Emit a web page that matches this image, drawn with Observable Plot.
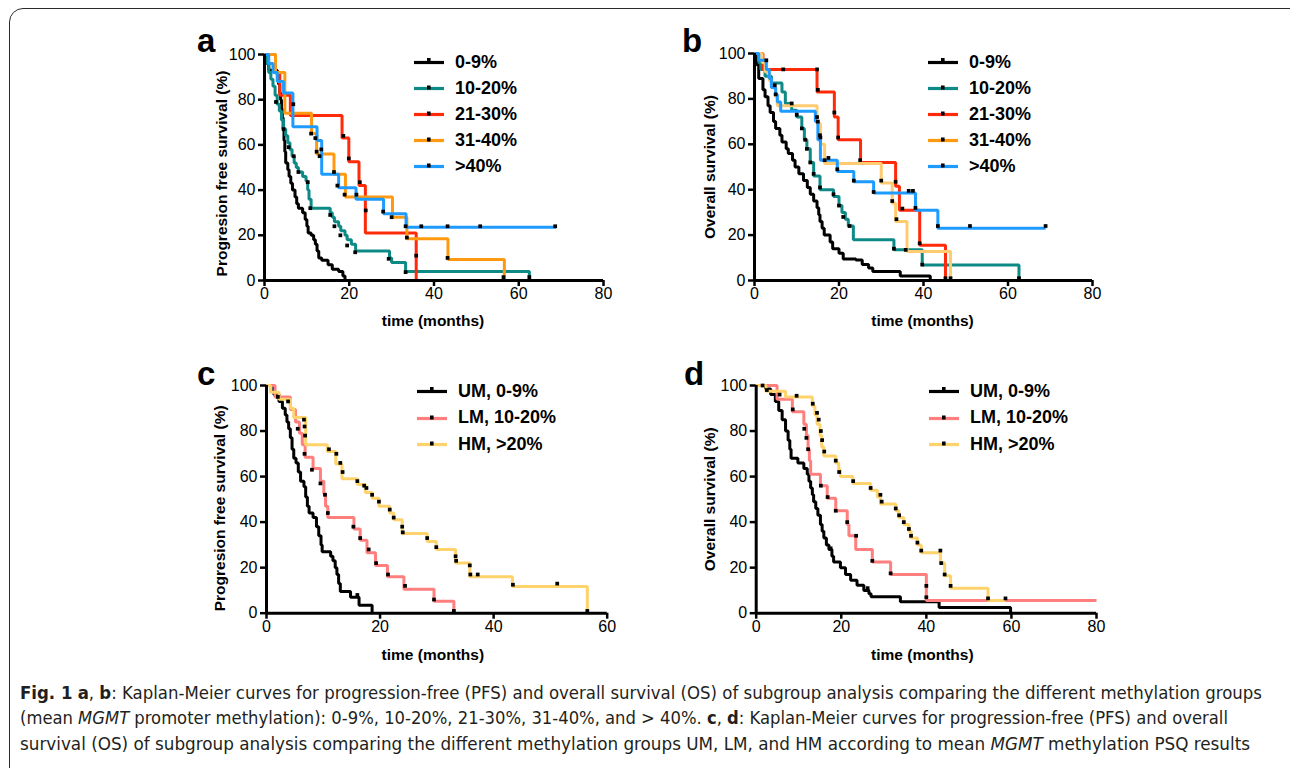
<!DOCTYPE html>
<html><head><meta charset="utf-8">
<script src="https://cdn.jsdelivr.net/npm/d3@7"></script>
<script src="https://cdn.jsdelivr.net/npm/@observablehq/plot@0.6"></script>
<style>
html,body{margin:0;padding:0;background:#fff;overflow:hidden;}
#wrap{position:relative;width:1290px;height:768px;overflow:hidden;background:#fff;font-family:"Liberation Sans",Arial,sans-serif;}
#frame{position:absolute;left:9px;top:8px;width:1300px;height:780px;border:1.5px solid #2a2a2a;border-radius:14px;box-sizing:border-box;}
.pan{position:absolute;}
.letter{position:absolute;font-weight:bold;font-size:33px;line-height:1;color:#000;}
.leg{position:absolute;}
.row{position:absolute;left:0;height:22px;display:flex;align-items:center;white-space:nowrap;}
.row span{font-weight:bold;font-size:18px;color:#000;margin-left:11px;}
</style></head>
<body><div id="wrap"><div id="frame"></div></div>
<script>
// ---------- data ----------
const xTicks80 = [0, 20, 40, 60, 80];
const xTicks60 = [0, 20, 40, 60];
const yTicks = [0, 20, 40, 60, 80, 100];

// Panel a: progression free survival, 5 groups [time (months), survival %]
const a_g1 = [[0,100],[0.5,96],[1,93],[3,91],[3.3,87],[3.6,83],[3.8,80],[4,76],[4.2,72],[4.4,67],[4.6,62],[4.8,57],[5,52],[5.5,49],[5.8,46],[6.2,43],[6.6,40],[7.2,37],[7.6,34],[8,32],[9,30],[9.6,27],[10,24],[10.3,21],[11,20],[11.6,18],[12,16],[12.4,13],[12.8,10],[13.5,9],[15,7],[16,5],[17.5,4],[18.5,2],[19,0]];
const a_g2 = [[0,100],[0.5,96],[1,92],[1.5,89],[2,86],[2.5,82],[3,78],[3.5,75],[4,71],[4.5,67],[5,64],[5.5,61],[6,58],[6.5,55],[7,52],[7.5,50],[8,48],[9,46],[9.8,44],[10.2,40],[10.5,36],[11,32],[15.5,30],[16,28],[16.5,26],[17.5,24],[18,22],[19,20],[19.5,18],[20.5,16],[21.5,13],[29.5,10],[30,8],[33.3,4],[62.5,0]];
const a_g3 = [[0,100],[2.6,92],[3.6,82],[6.1,73],[18.3,63],[19.9,52.5],[22.3,42],[23.8,21],[35.8,0]];
const a_g4 = [[0,100],[2.6,92],[4.8,74],[11.1,65],[12.3,56],[16.4,47],[19.1,37],[30.2,28],[33.6,18.5],[43.3,9.3],[56.6,0]];
const a_g5 = [[0,100],[1,96],[2,92],[3,88],[4.5,83],[6.7,68],[12.4,62],[13.5,47],[17.5,41],[21.6,36],[28.1,29.5],[33.4,23.6],[68.8,23.6]];
const a_c1 = [];
const a_c2 = [[2.7,79],[4.5,67],[5.7,59],[6.9,55],[8,48],[10.2,43.5],[10.8,32],[15.5,29],[16.5,24],[17.9,20],[19.5,15.5],[21.4,12.5],[29.3,9.6],[33.3,3.7],[62.5,1.5]];
const a_c3 = [[18.6,64],[19.9,54],[22.5,43.5],[23.9,31],[35.8,11]];
const a_c4 = [[11,65],[12.3,57],[13,55],[16.4,48],[18.9,38],[30,28],[33.6,19],[43.2,10],[56.4,1.5]];
const a_c5 = [[6.8,78],[12,63],[13.4,58],[17.2,42],[21.7,38],[28,30.5],[33.3,24],[37,24],[43.2,24],[50.9,24],[68.6,24]];

// Panel b: overall survival, 5 groups
const b_g1 = [[0,100],[0.5,95],[1,89],[2,84],[2.5,81],[3.2,77],[3.7,74],[4.5,70],[5,67],[6,64],[6.5,61],[7.5,58],[8,56],[9,53],[9.6,50],[10.5,47],[11.6,44],[12.5,41],[13.2,38],[14,35],[14.8,32],[15.2,29],[15.5,26],[16,23],[16.5,20],[17.9,17],[18.5,14],[20,12],[21,9.5],[24,9],[25.5,7],[27,5.5],[28,4],[34.5,2],[41.6,0]];
const b_g2 = [[0,100],[1,96],[1.5,93],[2.5,90],[4,87],[6.5,83],[7.3,78],[8.8,75],[10,72],[11.2,67],[11.8,62],[12.4,58],[13.2,52],[14,46],[15.5,40],[18.7,37],[20,33],[20.7,30],[21.5,27],[22.2,24],[23.4,18],[33,13.5],[39.7,6.8],[62.6,0]];
const b_g3 = [[0,100],[2,93],[14.8,83],[18.9,72],[19.8,62],[25.1,52],[33.4,41.5],[34.3,31],[39.1,15.5],[45.2,0]];
const b_g4 = [[0,100],[1.8,96],[2.5,92],[3.5,88],[4,85],[5,81],[5.4,77],[14.8,69],[15.6,60],[16.6,51.5],[30,43],[32.6,34],[33.4,26],[36.1,12.8],[46.4,0]];
const b_g5 = [[0,100],[1,97],[2.8,93],[3.5,89],[4,85],[5,82],[5.4,78.6],[6.2,74.6],[14.4,70],[15,62],[15.6,53],[19.6,48],[23.5,43.5],[28.2,38.5],[38.1,31],[43.4,23],[68.9,23]];
const b_c1 = [];
const b_c2 = [[4.8,86],[8.8,78],[10,73],[11.2,67],[12,62],[12.4,58],[13.2,52],[14,47],[15.5,41],[18.7,38],[20,33],[21,28],[22.5,24],[33,14],[39.7,7],[62.6,1]];
const b_c3 = [[6.8,93],[14.8,93],[15,84],[18.9,74],[19.8,63],[25,53],[33.4,43.5],[35,31.7],[39.1,16.4],[45.2,1]];
const b_c4 = [[14.8,72],[15.6,63],[16.6,53],[30,44],[32.6,35],[33.6,27],[35.8,13.5],[46.4,1]];
const b_c5 = [[2.8,97],[5,82],[15,70],[15.5,64],[17.5,54],[19.6,49],[23.5,44],[28.2,39],[36.5,39.5],[37.5,39.5],[38.1,32],[43.4,24],[51,24],[68.9,24]];

// Panel c: progression free survival, UM / LM / HM
const c_g1 = [[0,100],[1.3,96],[2.2,93],[2.8,90],[3.3,87],[3.6,84],[3.9,81],[4.2,77],[4.5,72],[4.8,68],[5.2,66],[5.6,62],[6,58],[6.6,55.5],[6.9,51],[7.2,47],[7.5,44],[8.2,42],[8.8,38],[9.2,34],[9.6,30],[9.8,27],[11.3,25],[11.7,23],[12.1,20],[12.4,17],[12.7,13],[13,9.5],[14.8,7],[16.3,3.5],[18.6,0]];
const c_g2 = [[0,100],[1.5,95],[4.2,89.5],[5.1,84],[5.8,79],[6.3,74],[6.8,68.5],[8.2,63.5],[9.5,58],[10.1,52.5],[10.4,47],[10.8,42],[15.4,37],[16.5,32],[17.7,26.5],[19.2,21],[21.3,16],[24.2,10.5],[29.5,5.3],[33,0]];
const c_g3 = [[0,100],[0.7,97],[2.2,94],[4.2,90],[4.8,86],[6.9,74],[10.7,71],[12.2,65.5],[13.3,59],[16,56.5],[17.4,53],[18.6,50.5],[19.8,47],[21.7,44],[22.4,41],[23.9,35],[28.3,31.5],[29.9,28],[33.3,22],[35.8,16],[43.3,11.7],[56.5,0]];
const c_c1 = [[16,8]];
const c_c2 = [[5.5,81],[6.7,70],[8,63],[9.5,57],[10.3,52],[10.8,44],[15.3,38],[16.5,33],[18,28],[19.3,22],[21.4,17],[24.4,12],[29.5,6],[33,1]];
const c_c3 = [[2,95],[3.8,93],[6.6,85],[6.7,82],[6.8,78],[11,72],[12.3,70],[13,66],[13.4,62],[16,58],[17.2,56],[17.6,55],[18.6,52],[19.8,49],[21.7,45.5],[22.4,42],[23.9,38],[24,35.5],[28.3,33],[29.9,29],[33.3,25],[33.4,23],[35.8,21],[35.9,17],[37.2,17],[43.4,12.5],[51.2,13],[56.5,1]];

// Panel d: overall survival, UM / LM / HM
const d_g1 = [[0,100],[2.2,98.5],[3.4,96],[4.5,93],[5.3,89],[6.1,85],[6.9,80],[7.5,76],[7.9,72],[8.2,68],[9.8,66],[11.2,63.5],[12,61],[12.4,58],[12.8,55],[13.2,52],[13.5,49],[14,46],[14.5,43],[15.1,39],[15.5,36],[15.9,33],[16.5,30],[17.1,28],[17.8,25],[18.2,22.5],[19.8,20],[21,17],[22.2,14.5],[23.7,12.3],[25.3,10],[26.5,8.5],[27,7.2],[33.9,5],[43,2.5],[59.8,0]];
const d_g2 = [[0,100],[4.9,94],[8.5,88.5],[11.2,83],[11.8,78],[12.2,72],[12.5,67],[12.8,61],[15.1,56],[16.7,50.5],[18.7,45],[21.4,39],[21.8,34],[23.4,28],[27.3,22.5],[31.6,17],[40,5.6],[80,5.6]];
const d_g3 = [[0,100],[2.3,97.5],[6.9,95],[13.2,91],[13.8,87],[14.3,83],[15,78],[15.4,73],[15.9,69],[18.7,66],[19.4,63],[19.8,60],[22.7,57],[26.9,54],[28.5,51],[29.2,48],[32.8,45],[33.5,42],[34.7,39],[35.9,36],[36.4,33],[37.9,30],[38.8,26.5],[43.3,22],[44.3,16.5],[45.7,11],[54.5,5.6],[58.6,5.6]];
const d_c1 = [[17.5,28.5],[26.2,11]];
const d_c2 = [[8.6,89.5],[11.3,81],[11.8,77],[12.2,72],[15.2,56],[16.8,51],[18.7,45],[21.4,40],[23.5,34],[27.3,23],[31.6,17.5],[40,12],[40,7]];
const d_c3 = [[1.5,100],[2.5,98],[5.5,96],[9.5,95.5],[13.3,92],[14.3,88],[14.7,85],[15.2,80],[15.5,76],[16,71],[18.7,67],[19.5,62],[22.8,58],[26.9,55],[29.2,52],[29.5,49],[32.8,46],[33.6,43],[34.7,40],[35.9,37],[36.4,34],[37.9,31],[38.8,27.5],[43.3,27.5],[43.5,22],[44.3,17],[45.7,12],[54.5,6.5],[58.6,6.5]];

const names5 = ["0-9%", "10-20%", "21-30%", "31-40%", ">40%"];
const names3 = ["UM, 0-9%", "LM, 10-20%", "HM, >20%"];
const colorsA = ["#000000", "#0e8a86", "#ff2a0a", "#ff9a10", "#1e9bff"];
const colorsB = ["#000000", "#0e8a86", "#ff2a0a", "#ffcb70", "#1e9bff"];
const legendB = ["#000000", "#0e8a86", "#ff2a0a", "#ff9a10", "#1e9bff"];
const colorsCD = ["#000000", "#ff7f7f", "#ffd36b"];

// ---------- drawing ----------
const wrap = document.getElementById("wrap");
const toObj = (arr) => arr.map(([t, v]) => ({t, v}));

function panel(cfg) {
  const marks = [];
  cfg.curves.forEach((c, i) => {
    marks.push(Plot.line(toObj(c), {x: "t", y: "v", curve: "step-after", stroke: cfg.colors[i], strokeWidth: 3, strokeLinejoin: "miter", strokeLinecap: "butt"}));
  });
  cfg.cens.forEach((c) => {
    marks.push(Plot.dot(toObj(c), {x: "t", y: "v", symbol: "square", r: 2.1, fill: "#000", stroke: "none"}));
  });
  marks.push(Plot.ruleY([0], {stroke: "#000", strokeWidth: 3}));
  marks.push(Plot.ruleX([0], {stroke: "#000", strokeWidth: 3}));
  marks.push(Plot.axisX({ticks: cfg.xTicks, tickSize: 6, tickPadding: 1, strokeWidth: 2.5, label: null, tickFormat: d => String(d)}));
  marks.push(Plot.axisY({ticks: yTicks, tickSize: 6, tickPadding: 3, strokeWidth: 2.5, label: null, tickFormat: d => String(d)}));
  marks.push(Plot.text(["time (months)"], {frameAnchor: "bottom", dy: cfg.xlDy, dx: cfg.xlDx, fontWeight: "bold", fontSize: 15.5, textAnchor: "middle"}));
  marks.push(Plot.text([cfg.ylabel], {frameAnchor: "left", rotate: -90, dx: cfg.ylDx, dy: cfg.ylDy, fontWeight: "bold", fontSize: 15.5, textAnchor: "middle"}));

  const svg = Plot.plot({
    width: cfg.w, height: cfg.h,
    marginLeft: cfg.ml, marginRight: cfg.mr, marginTop: cfg.mt, marginBottom: cfg.mb,
    x: {domain: cfg.xDomain, axis: null},
    y: {domain: [0, 100], axis: null},
    style: {fontFamily: "'Liberation Sans', Arial, sans-serif", fontSize: "16px", color: "#000", background: "transparent", overflow: "visible"},
    marks
  });
  const box = document.createElement("div");
  box.className = "pan";
  box.style.left = cfg.left + "px"; box.style.top = cfg.top + "px";
  box.appendChild(svg);
  wrap.appendChild(box);

  const L = document.createElement("div");
  L.className = "letter"; L.textContent = cfg.letter;
  L.style.left = cfg.letterX + "px"; L.style.top = cfg.letterY + "px";
  wrap.appendChild(L);

  const leg = document.createElement("div");
  leg.className = "leg";
  leg.style.left = cfg.legX + "px"; leg.style.top = "0px";
  cfg.names.forEach((n, i) => {
    const r = document.createElement("div");
    r.className = "row";
    r.style.top = (cfg.legY[i] - 11) + "px";
    const col = cfg.legColors[i];
    r.innerHTML = `<svg width="30" height="12" style="overflow:visible"><line x1="0" x2="30" y1="6.5" y2="6.5" stroke="${col}" stroke-width="3.2"/><rect x="13" y="${i === 0 ? 2 : 3.5}" width="3.6" height="${i === 0 ? 4.5 : 4}" fill="#000"/></svg><span>${n.replace(">", "&gt;")}</span>`;
    leg.appendChild(r);
  });
  wrap.appendChild(leg);
}

const rowsTop5 = [62, 88, 114, 140, 166];
const rowsTop3 = [391, 417.5, 444];

panel({left: 190, top: 20, w: 430, h: 320, ml: 74, mr: 17, mt: 34, mb: 60, xDomain: [0, 80], xTicks: xTicks80,
  curves: [a_g1, a_g2, a_g3, a_g4, a_g5], cens: [a_c1, a_c2, a_c3, a_c4, a_c5], colors: colorsA,
  ylabel: "Progresion free survival (%)", ylDx: -42, ylDy: 6, xlDy: 45, xlDx: -1,
  letter: "a", letterX: 197, letterY: 24, names: names5, legColors: colorsA, legX: 414, legY: rowsTop5});

panel({left: 690, top: 20, w: 430, h: 320, ml: 64, mr: 28, mt: 33, mb: 60, xDomain: [0, 80], xTicks: xTicks80,
  curves: [b_g1, b_g2, b_g3, b_g4, b_g5], cens: [b_c1, b_c2, b_c3, b_c4, b_c5], colors: colorsB,
  ylabel: "Overall survival (%)", ylDx: -44, ylDy: 0, xlDy: 45, xlDx: -1,
  letter: "b", letterX: 682, letterY: 24, names: names5, legColors: legendB, legX: 928, legY: rowsTop5});

panel({left: 190, top: 355, w: 440, h: 320, ml: 76, mr: 23.3, mt: 30, mb: 62.3, xDomain: [0, 60], xTicks: xTicks60,
  curves: [c_g1, c_g2, c_g3], cens: [c_c1, c_c2, c_c3], colors: colorsCD,
  ylabel: "Progresion free survival (%)", ylDx: -46, ylDy: 9, xlDy: 47, xlDx: -4,
  letter: "c", letterX: 197, letterY: 357, names: names3, legColors: colorsCD, legX: 417, legY: rowsTop3});

panel({left: 690, top: 355, w: 430, h: 320, ml: 65.7, mr: 24, mt: 30, mb: 62.3, xDomain: [0, 80], xTicks: xTicks80,
  curves: [d_g1, d_g2, d_g3], cens: [d_c1, d_c2, d_c3], colors: colorsCD,
  ylabel: "Overall survival (%)", ylDx: -46.4, ylDy: 0, xlDy: 47, xlDx: -4,
  letter: "d", letterX: 684, letterY: 357, names: names3, legColors: colorsCD, legX: 929, legY: rowsTop3});

// ---------- caption ----------
const capNS = "http://www.w3.org/2000/svg";
const cap = document.createElementNS(capNS, "svg");
cap.setAttribute("width", 1290); cap.setAttribute("height", 90);
cap.style.position = "absolute"; cap.style.left = "0px"; cap.style.top = "675px";
cap.innerHTML = `
<g font-family="'Liberation Sans Narrow','DejaVu Sans Condensed','Liberation Sans',Arial,sans-serif" font-size="17.5" fill="#231f20">
<text x="20" y="23.5" textLength="1242" lengthAdjust="spacingAndGlyphs"><tspan font-weight="bold">Fig. 1</tspan> <tspan font-weight="bold">a</tspan>, <tspan font-weight="bold">b</tspan>: Kaplan-Meier curves for progression-free (PFS) and overall survival (OS) of subgroup analysis comparing the different methylation groups</text>
<text x="20" y="49" textLength="1208" lengthAdjust="spacingAndGlyphs">(mean <tspan font-style="italic">MGMT</tspan> promoter methylation): 0-9%, 10-20%, 21-30%, 31-40%, and &gt; 40%. <tspan font-weight="bold">c</tspan>, <tspan font-weight="bold">d</tspan>: Kaplan-Meier curves for progression-free (PFS) and overall</text>
<text x="20" y="74.5" textLength="1230" lengthAdjust="spacingAndGlyphs">survival (OS) of subgroup analysis comparing the different methylation groups UM, LM, and HM according to mean <tspan font-style="italic">MGMT</tspan> methylation PSQ results</text>
</g>`;
wrap.appendChild(cap);
</script>
</body></html>
